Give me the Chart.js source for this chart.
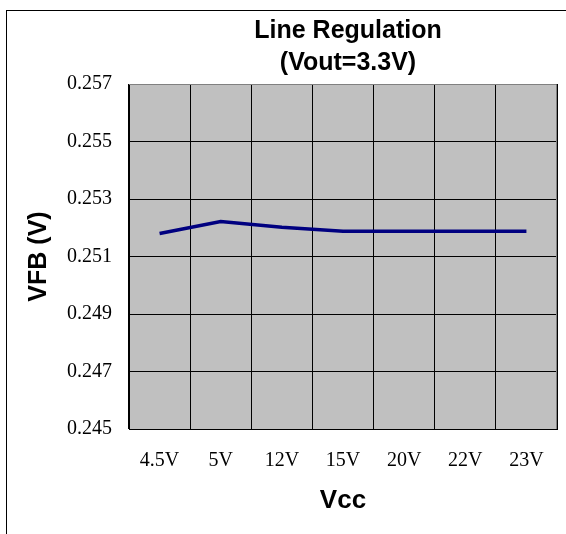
<!DOCTYPE html>
<html>
<head>
<meta charset="utf-8">
<script src="https://cdn.jsdelivr.net/npm/chart.js@4"></script>
<style>
  html, body { margin: 0; padding: 0; background: #fff; overflow: hidden; }
  #wrap { width: 566px; height: 534px; }
</style>
</head>
<body>
<div id="wrap"><canvas id="lineChart" width="566" height="534"></canvas></div>
<script>
// datos
const categories = ['4.5V', '5V', '12V', '15V', '20V', '22V', '23V'];
const vfbValues = [0.2518, 0.25222, 0.25202, 0.25188, 0.25188, 0.25188, 0.25188];
const yTicks = [0.245, 0.247, 0.249, 0.251, 0.253, 0.255, 0.257];
const titleLines = ['Line Regulation', '(Vout=3.3V)'];

// marco exterior + título
const framePlugin = {
    id: 'frame',
    beforeDraw(chart) {
        const c = chart.ctx;
        c.save();
        c.fillStyle = '#fff';
        c.fillRect(0, 0, chart.width, chart.height);
        c.strokeStyle = '#000';
        c.lineWidth = 1;
        c.strokeRect(6.5, 10.5, 700, 700);
        // fondo gris del área
        const a = chart.chartArea;
        c.fillStyle = '#c0c0c0';
        c.fillRect(a.left, a.top, a.right - a.left, a.bottom - a.top);
        c.restore();
    },
    afterDraw(chart) {
        const c = chart.ctx;
        const a = chart.chartArea;
        c.save();
        // borde del área
        c.strokeStyle = '#808080';
        c.lineWidth = 1;
        c.beginPath();
        c.moveTo(a.left, a.top + 0.5);
        c.lineTo(a.right - 0.5, a.top + 0.5);
        c.lineTo(a.right - 0.5, a.bottom);
        c.stroke();
        c.fillStyle = '#000';
        c.font = 'bold 25px "Liberation Sans", Arial, sans-serif';
        c.textAlign = 'center';
        c.textBaseline = 'middle';
        const cx = (a.left + a.right) / 2 + 5;
        c.fillText(titleLines[0], cx, 31);
        c.fillText(titleLines[1], cx, 63);
        c.restore();
    }
};

const ctx = document.getElementById('lineChart').getContext('2d');
const chart = new Chart(ctx, {
    type: 'line',
    data: {
        labels: categories,
        datasets: [{
            label: 'VFB',
            data: vfbValues,
            borderColor: '#000080',
            borderWidth: 3.5,
            pointRadius: 0,
            tension: 0,
            fill: false
        }]
    },
    options: {
        responsive: false,
        animation: false,
        layout: { padding: { left: 0, top: 84, right: 9, bottom: 0 } },
        plugins: {
            legend: { display: false },
            tooltip: { enabled: false }
        },
        scales: {
            x: {
                offset: true,
                grid: {
                    offset: true,
                    color: '#000',
                    lineWidth: 1,
                    drawTicks: false
                },
                border: { color: '#000', width: 1 },
                ticks: {
                    color: '#000',
                    padding: 20,
                    maxRotation: 0,
                    font: { family: '"Liberation Serif", "Times New Roman", serif', size: 20 }
                },
                title: {
                    display: true,
                    text: 'Vcc',
                    color: '#000',
                    font: { family: '"Liberation Sans", Arial, sans-serif', size: 26, weight: 'bold' },
                    padding: { top: 0, bottom: 18 }
                },
                afterFit(scale) { scale.height = 105; }
            },
            y: {
                min: yTicks[0],
                max: yTicks[yTicks.length - 1],
                afterBuildTicks(scale) {
                    scale.ticks = yTicks.map(v => ({ value: v }));
                },
                grid: {
                    color: '#000',
                    lineWidth: 1,
                    drawTicks: false
                },
                border: { color: '#000', width: 1 },
                ticks: {
                    color: '#000',
                    padding: 17,
                    font: { family: '"Liberation Serif", "Times New Roman", serif', size: 20 },
                    callback: v => v.toFixed(3)
                },
                title: {
                    display: true,
                    text: 'VFB (V)',
                    color: '#000',
                    font: { family: '"Liberation Sans", Arial, sans-serif', size: 25, weight: 'bold' },
                    padding: { top: 24, bottom: 0 }
                },
                afterFit(scale) { scale.width = 129; }
            }
        }
    },
    plugins: [framePlugin]
});
</script>
</body>
</html>
